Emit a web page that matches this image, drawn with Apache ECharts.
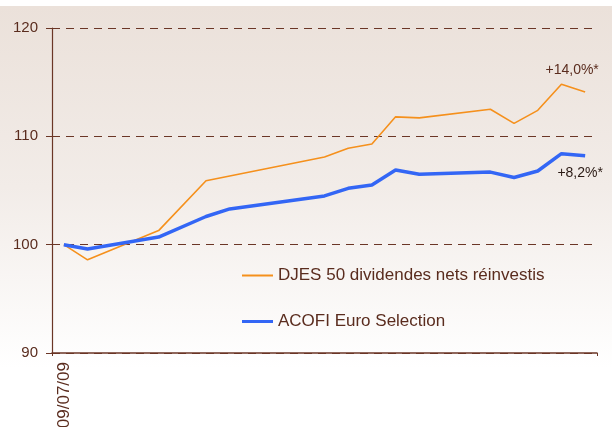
<!DOCTYPE html>
<html>
<head>
<meta charset="utf-8">
<script src="https://cdn.jsdelivr.net/npm/echarts@6/dist/echarts.min.js"></script>
<style>html,body{margin:0;padding:0;background:#fff}#c{width:612px;height:427px}</style>
</head>
<body>
<div id="c"></div>
<script>
// Weekly observation dates (only the first is labelled on the chart)
const categories = ['09/07/09','16/07/09','23/07/09','30/07/09','06/08/09','13/08/09','20/08/09','27/08/09',
  '03/09/09','10/09/09','17/09/09','24/09/09','01/10/09','08/10/09','15/10/09','22/10/09','29/10/09',
  '05/11/09','12/11/09','19/11/09','26/11/09','03/12/09','10/12/09'];
// Values (null where no vertex is visible)
const djesValues  = [100, 98.6, null, null, 101.3, null, 105.9, null, null, null, null, 108.1, 108.9, 109.3, 111.8, 111.7, null, null, 112.5, 111.2, 112.4, 114.8, 114.1];
const acofiValues = [100, 99.6, null, null, 100.7, null, 102.6, 103.3, null, null, null, 104.5, 105.2, 105.5, 106.9, 106.5, null, null, 106.7, 106.2, 106.8, 108.4, 108.2];
const seriesNames = ['DJES 50 dividendes nets réinvestis', 'ACOFI Euro Selection'];
const endNotes = ['+14,0%*', '+8,2%*'];
const yTicks = [90, 100, 110, 120];

const brown = '#6b3626';
const textBrown = '#5a2c1e';
const font = 'Liberation Sans, Arial, sans-serif';
const last = categories.length - 1;

const chart = echarts.init(document.getElementById('c'), null, {renderer: 'canvas'});
chart.setOption({
  animation: false,
  backgroundColor: '#ffffff',
  graphic: [{
    type: 'rect', z: -10, silent: true,
    shape: {x: 0, y: 6, width: 612, height: 362},
    style: {fill: new echarts.graphic.LinearGradient(0, 0, 0, 1, [
      {offset: 0, color: '#ebe1da'},
      {offset: 0.5, color: '#f2ece8'},
      {offset: 1, color: '#ffffff'}
    ])}
  }],
  grid: {left: 52, right: 15, top: 28, bottom: 74, containLabel: false, outerBoundsMode: 'none'},
  legend: [{
    data: [seriesNames[0]], left: 242, top: 267, padding: 0,
    icon: 'rect', itemWidth: 31, itemHeight: 2,
    textStyle: {color: textBrown, fontSize: 17, fontFamily: font}
  }, {
    data: [seriesNames[1]], left: 242, top: 313, padding: 0,
    icon: 'rect', itemWidth: 31, itemHeight: 3,
    textStyle: {color: textBrown, fontSize: 17, fontFamily: font}
  }],
  xAxis: {
    type: 'category', data: categories, boundaryGap: true,
    axisLine: {show: true, lineStyle: {color: brown, width: 1.5}},
    axisTick: {show: true, length: 3, interval: (i) => i === 0, lineStyle: {color: brown}},
    axisLabel: {
      interval: (i) => i === 0, rotate: 90, margin: 9,
      color: textBrown, fontSize: 17, fontFamily: font
    },
    splitLine: {show: false}
  },
  yAxis: {
    type: 'value', min: yTicks[0], max: yTicks[yTicks.length - 1], interval: 10,
    axisLine: {show: true, lineStyle: {color: brown, width: 1.2}},
    axisTick: {show: true, inside: false, length: 6, lineStyle: {color: brown}},
    axisLabel: {color: textBrown, fontSize: 15, fontFamily: font, margin: 14},
    splitLine: {show: true, lineStyle: {color: brown, type: [8, 6], width: 1}}
  },
  series: [{
    name: seriesNames[0], type: 'line', data: djesValues, connectNulls: true,
    symbol: 'none', color: '#f5901c', z: 3,
    lineStyle: {color: '#f5901c', width: 1.6},
    markPoint: {
      symbol: 'circle', symbolSize: 0, silent: true,
      data: [{name: endNotes[0], coord: [last, djesValues[last]]}],
      label: {show: true, position: 'inside', formatter: '{b}', offset: [-13, -22],
        color: textBrown, fontSize: 14, fontFamily: font}
    }
  }, {
    name: seriesNames[1], type: 'line', data: acofiValues, connectNulls: true,
    symbol: 'none', color: '#3366f5', z: 4,
    lineStyle: {color: '#3366f5', width: 3.5},
    markPoint: {
      symbol: 'circle', symbolSize: 0, silent: true,
      data: [{name: endNotes[1], coord: [last, acofiValues[last]]}],
      label: {show: true, position: 'inside', formatter: '{b}', offset: [-5, 17],
        color: '#2a1a14', fontSize: 14, fontFamily: font}
    }
  }]
});
</script>
</body>
</html>
